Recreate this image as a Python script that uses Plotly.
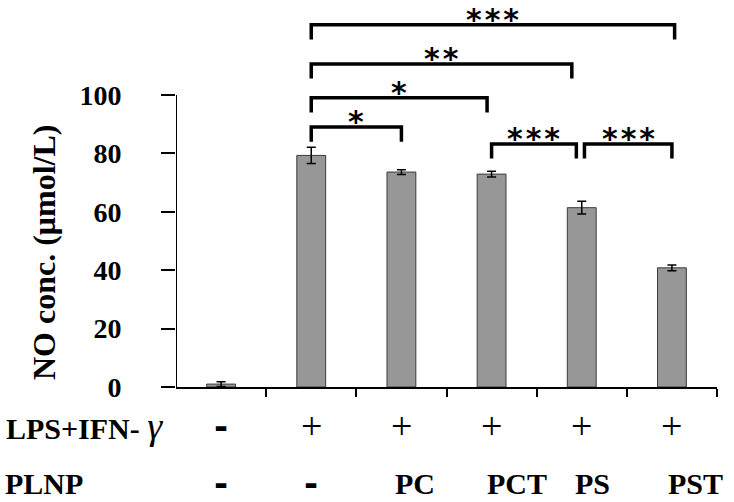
import plotly.graph_objects as go

# ---- data ----
groups = ["Control", "LPS+IFN-γ", "PC", "PCT", "PS", "PST"]
no_conc = [1.0, 79.3, 73.6, 72.9, 61.4, 40.8]
no_err = [0.8, 2.8, 0.8, 1.0, 2.2, 1.0]
lps_row = ["-", "+", "+", "+", "+", "+"]
plnp_row = ["-", "-", "PC", "PCT", "PS", "PST"]
y_ticks = [0, 20, 40, 60, 80, 100]

# significance brackets (group index from, group index to, bracket level, label)
sig_from = [1, 1, 1, 1, 3, 4]
sig_to = [2, 3, 4, 5, 4, 5]
sig_level = [89.0, 99.0, 110.6, 124.0, 83.2, 83.2]
sig_label = ["*", "*", "**", "***", "***", "***"]

# layout-only offsets
plnp_shift = [0.0, 0.0, 0.15, 0.28, 0.12, 0.26]
bracket_x0_adj = [0, 0, 0, 0, 0.0, 0.03]
bracket_x1_adj = [0, -0.05, -0.11, 0.03, -0.06, 0.0]
leg_len = 5.0

x = list(range(len(groups)))

fig = go.Figure()
fig.add_trace(go.Bar(
    x=x, y=no_conc, width=0.32,
    marker=dict(color="#979797", line=dict(color="#3a3a3a", width=1)),
    error_y=dict(type="data", array=no_err, color="black", thickness=1.5, width=4.5),
    showlegend=False,
))

shapes = []
annotations = []
# y axis line (only up to 100)
shapes.append(dict(type="line", xref="x", yref="y", x0=-0.5, x1=-0.5, y0=0, y1=100,
                   line=dict(color="black", width=2)))

for i in range(len(sig_from)):
    xa = sig_from[i] + bracket_x0_adj[i]
    xb = sig_to[i] + bracket_x1_adj[i]
    yl = sig_level[i]
    shapes.append(dict(type="path", xref="x", yref="y",
                       path=f"M {xa},{yl - leg_len} L {xa},{yl} L {xb},{yl} L {xb},{yl - leg_len}",
                       line=dict(color="black", width=3.5)))
    annotations.append(dict(xref="x", yref="y", x=(xa + xb) / 2, y=yl,
                            text="\u200a".join(sig_label[i]), showarrow=False,
                            yanchor="bottom", yshift=-14,
                            font=dict(family="DejaVu Sans", size=30, color="black", weight="bold")))

serif = "Liberation Serif"
for i in x:
    if lps_row[i] == "-":
        f1 = dict(family="DejaVu Sans", size=34, color="black", weight="bold")
    else:
        f1 = dict(family=serif, size=38, color="black", weight="normal")
    annotations.append(dict(xref="x", yref="paper", x=i, y=0, yanchor="middle", yshift=-(426 - 387),
                            text=lps_row[i], showarrow=False, font=f1))
    if plnp_row[i] == "-":
        f2 = dict(family="DejaVu Sans", size=34, color="black", weight="bold")
    else:
        f2 = dict(family=serif, size=30, color="black", weight="bold")
    annotations.append(dict(xref="x", yref="paper", x=i + plnp_shift[i], y=0, yanchor="middle",
                            yshift=-(483 - 387), text=plnp_row[i], showarrow=False, font=f2))

annotations.append(dict(xref="paper", yref="paper", x=(4 - 176) / 541, y=0, xanchor="left",
                        yanchor="middle", yshift=-(426 - 387),
                        text="<b>LPS+IFN-</b> <i><span style='font-size:38px'>γ</span></i>",
                        showarrow=False,
                        font=dict(family=serif, size=30, color="black")))
annotations.append(dict(xref="paper", yref="paper", x=(3 - 176) / 541, y=0, xanchor="left",
                        yanchor="middle", yshift=-(483 - 387),
                        text="<b>PLNP</b>", showarrow=False,
                        font=dict(family=serif, size=30, color="black")))
# y-axis title
annotations.append(dict(xref="paper", yref="paper", x=(44 - 176) / 541, y=(387 - 253) / 382,
                        xanchor="center", yanchor="middle", textangle=-90,
                        text="<b>NO conc. (μmol/L)</b>", showarrow=False,
                        font=dict(family=serif, size=32, color="black")))

fig.update_layout(
    width=734, height=502,
    margin=dict(l=176, r=17, t=5, b=115),
    plot_bgcolor="white", paper_bgcolor="white",
    shapes=shapes, annotations=annotations,
    xaxis=dict(range=[-0.5, 5.5], tickvals=[0.5, 1.5, 2.5, 3.5, 4.5, 5.5], ticktext=[""] * 6,
               ticks="outside", ticklen=8, tickwidth=2, tickcolor="black",
               showline=True, linecolor="black", linewidth=2, showgrid=False, zeroline=False),
    yaxis=dict(range=[0, 130.8], tickvals=y_ticks, ticks="outside", ticklen=14, tickwidth=2,
               tickcolor="black", showline=False, showgrid=False, zeroline=False,
               ticklabelstandoff=34,
               tickfont=dict(family=serif, size=28, color="black", weight="bold")),
)

fig.write_html("out.html", config={"displayModeBar": False},
               post_script="document.body.style.margin='0px';")
